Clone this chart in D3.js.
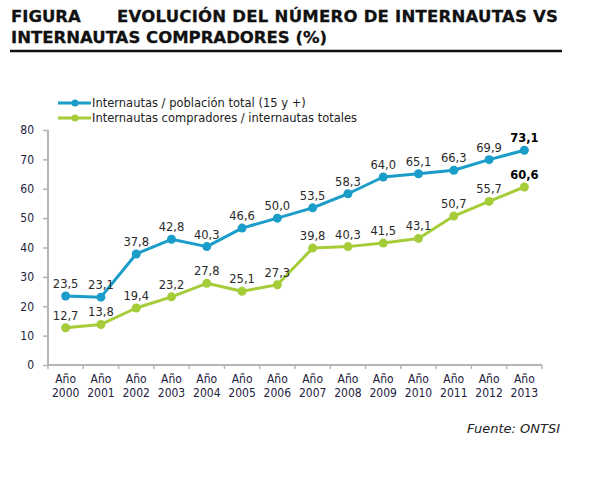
<!DOCTYPE html>
<html>
<head>
<meta charset="utf-8">
<script src="https://cdn.jsdelivr.net/npm/d3@7"></script>
<style>
  body { margin: 0; background: #fff; }
  svg { display: block; }
  .tick text { font-family: "DejaVu Sans Condensed", "DejaVu Sans", sans-serif; }
</style>
</head>
<body>
<div id="chart"></div>
<script>
// chart values
var years = ["2000", "2001", "2002", "2003", "2004", "2005", "2006",
             "2007", "2008", "2009", "2010", "2011", "2012", "2013"];
var internautas = [23.5, 23.1, 37.8, 42.8, 40.3, 46.6, 50.0,
                   53.5, 58.3, 64.0, 65.1, 66.3, 69.9, 73.1];
var compradores = [12.7, 13.8, 19.4, 23.2, 27.8, 25.1, 27.3,
                   39.8, 40.3, 41.5, 43.1, 50.7, 55.7, 60.6];
var yTicks = [0, 10, 20, 30, 40, 50, 60, 70, 80];
var seriesNames = ["Internautas / población total (15 y +)",
                   "Internautas compradores / internautas totales"];

var svgWidth = 599;
var svgHeight = 480;
var font = "'DejaVu Sans', sans-serif";
var colors = ["#1b9dc9", "#a5cd39"];

var svg = d3.select("#chart")
  .append("svg")
  .attr("width", svgWidth)
  .attr("height", svgHeight);

// title, two lines, first one spread out like justified text
var title1 = svg.append("text")
  .attr("font-family", font)
  .attr("font-weight", "bold")
  .attr("font-size", 16.5)
  .attr("fill", "#111")
  .attr("stroke", "#111")
  .attr("stroke-width", 0.3)
  .attr("y", 22);
title1.append("tspan").attr("x", 11).text("FIGURA");
title1.append("tspan").attr("x", 117)
  .attr("textLength", 441)
  .attr("lengthAdjust", "spacing")
  .text("EVOLUCIÓN DEL NÚMERO DE INTERNAUTAS VS");

svg.append("text")
  .attr("font-family", font)
  .attr("font-weight", "bold")
  .attr("font-size", 16.5)
  .attr("fill", "#111")
  .attr("stroke", "#111")
  .attr("stroke-width", 0.3)
  .attr("x", 11)
  .attr("y", 43)
  .text("INTERNAUTAS COMPRADORES (%)");

svg.append("line")
  .attr("x1", 10).attr("x2", 562)
  .attr("y1", 51).attr("y2", 51)
  .attr("stroke", "#111")
  .attr("stroke-width", 2.5);

// scales
var xScale = d3.scaleBand()
  .domain(years)
  .range([48, 542]);

var yScale = d3.scaleLinear()
  .domain([0, 80])
  .range([365, 130]);

// axes
var leftAxis = d3.axisLeft(yScale).tickValues(yTicks).tickSize(5).tickPadding(9);
var bottomAxis = d3.axisBottom(xScale).tickSize(0).tickFormat("");

var yAxis = svg.append("g")
  .attr("transform", "translate(48,0)")
  .call(leftAxis);
yAxis.select(".domain").attr("stroke", "#b5b5b5").attr("stroke-width", 2)
  .attr("d", "M0,130V365");
yAxis.selectAll(".tick line").attr("stroke", "#b5b5b5").attr("stroke-width", 1.5);
yAxis.selectAll(".tick text")
  .attr("font-size", 12)
  .attr("fill", "#1e2140");

var xAxis = svg.append("g")
  .attr("transform", "translate(0,365)")
  .call(bottomAxis);
xAxis.select(".domain").attr("stroke", "#b5b5b5").attr("stroke-width", 2)
  .attr("d", "M48,0H542");

// tick marks at band boundaries
var bounds = years.map(d => xScale(d)).concat([xScale.range()[1]]);
xAxis.selectAll(".bound")
  .data(bounds)
  .enter()
  .append("line")
  .attr("x1", d => d).attr("x2", d => d)
  .attr("y1", 0).attr("y2", 4)
  .attr("stroke", "#b5b5b5")
  .attr("stroke-width", 1.5);

// two-line category labels
var xLabels = xAxis.selectAll(".tick text")
  .attr("font-size", 12)
  .attr("fill", "#1e2140")
  .text(null);
xLabels.append("tspan").attr("x", 0).attr("y", 18).text("Año");
xLabels.append("tspan").attr("x", 0).attr("y", 32).text(d => d);
xAxis.selectAll(".tick text").attr("dy", null);

var cx = d => xScale(d) + xScale.bandwidth() / 2;

var series = [internautas, compradores];

series.forEach(function(values, i) {
  var line = d3.line()
    .x((d, j) => cx(years[j]))
    .y(d => yScale(d));

  svg.append("path")
    .datum(values)
    .attr("fill", "none")
    .attr("stroke", colors[i])
    .attr("stroke-width", 3)
    .attr("stroke-linejoin", "round")
    .attr("d", line);

  svg.selectAll(".dot" + i)
    .data(values)
    .enter()
    .append("circle")
    .attr("cx", (d, j) => cx(years[j]))
    .attr("cy", d => yScale(d))
    .attr("r", 4.5)
    .attr("fill", colors[i]);

  svg.selectAll(".lbl" + i)
    .data(values)
    .enter()
    .append("text")
    .attr("x", (d, j) => cx(years[j]))
    .attr("y", d => yScale(d) - 8)
    .attr("text-anchor", "middle")
    .attr("font-family", font)
    .attr("font-size", 11.5)
    .attr("font-weight", (d, j) => j === values.length - 1 ? "bold" : "normal")
    .attr("fill", (d, j) => j === values.length - 1 ? "#000" : "#2a2a2a")
    .text(d => d3.format(".1f")(d).replace(".", ","));
});

// legend
var legend = svg.append("g");
seriesNames.forEach(function(name, i) {
  var ly = 103 + i * 15;
  legend.append("line")
    .attr("x1", 58).attr("x2", 91)
    .attr("y1", ly).attr("y2", ly)
    .attr("stroke", colors[i])
    .attr("stroke-width", 3);
  legend.append("circle")
    .attr("cx", 75).attr("cy", ly).attr("r", 3.5)
    .attr("fill", colors[i]);
  legend.append("text")
    .attr("x", 92).attr("y", ly + 4)
    .attr("font-family", font)
    .attr("font-size", 11.5)
    .attr("fill", "#222")
    .text(name);
});

// source note
svg.append("text")
  .attr("x", 560).attr("y", 433)
  .attr("text-anchor", "end")
  .attr("font-family", font)
  .attr("font-style", "italic")
  .attr("font-size", 13)
  .attr("fill", "#222")
  .text("Fuente: ONTSI");
</script>
</body>
</html>
